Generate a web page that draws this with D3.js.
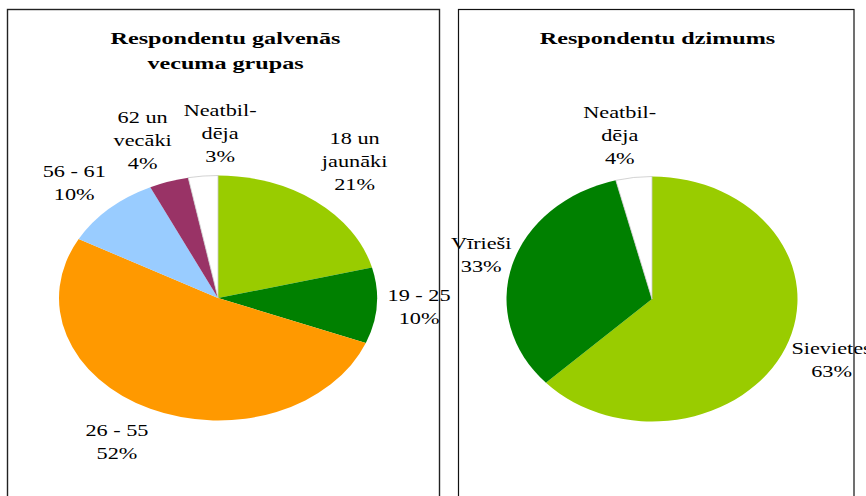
<!DOCTYPE html>
<html>
<head>
<meta charset="utf-8">
<script src="https://cdn.jsdelivr.net/npm/d3@7.9.0/dist/d3.min.js"></script>
<style>
  html, body { margin: 0; padding: 0; background: #fff; }
  svg { display: block; }
</style>
</head>
<body>
<svg id="chart" width="866" height="496"></svg>
<script>
// age groups (left pie)
const ageLabels = [['18 un', 'jaunāki'], ['19 - 25'], ['26 - 55'], ['56 - 61'], ['62 un', 'vecāki'], ['Neatbil-', 'dēja']];
const ageValues = [21, 10, 52, 10, 4, 3];
const ageColors = ['#99cc00', '#008000', '#ff9900', '#99ccff', '#993366', '#ffffff'];

// gender (right pie)
const genderLabels = [['Sievietes'], ['Vīrieši'], ['Neatbil-', 'dēja']];
const genderValues = [63, 33, 4];
const genderColors = ['#99cc00', '#008000', '#ffffff'];

// small label nudges, in px, after placing on the label ring
const ageNudge = [[7, -8], [-10, -2], [-11, -4], [1, 3], [-10, -3], [22, -3]];
const genderNudge = [[2, -4], [15, 1], [-8, -2]];

const svg = d3.select('#chart');
const LABEL_SX = 1.31;   // source picture is stretched sideways
const TITLE_SX = 1.38;
const LINE_H = 23;

function drawPanel(opts) {
    const g = svg.append('g');

    // title
    opts.title.forEach((line, i) => {
        g.append('text')
            .attr('transform', `translate(${opts.titleX},${44 + i * 24.5}) scale(${TITLE_SX},1)`)
            .attr('text-anchor', 'middle')
            .attr('font-family', '"Liberation Serif", "Times New Roman", serif')
            .attr('font-weight', 'bold')
            .attr('font-size', 17.5)
            .attr('fill', '#000')
            .text(line);
    });

    const total = d3.sum(opts.values);
    const pie = d3.pie().sort(null).value((d) => d);
    const slices = pie(opts.values);
    const R = 100;
    const arc = d3.arc().innerRadius(0).outerRadius(R);
    const ringR = R * 1.33;
    const ring = d3.arc().innerRadius(ringR).outerRadius(ringR);

    const pieG = g.append('g')
        .attr('transform', `translate(${opts.cx},${opts.cy}) scale(${opts.rx / R},${opts.ry / R})`);

    pieG.selectAll('path')
        .data(slices)
        .join('path')
        .attr('d', arc)
        .attr('fill', (d, i) => opts.colors[i])
        .attr('stroke', (d, i) => (opts.colors[i] === '#ffffff' ? '#c8c8c8' : 'none'))
        .attr('stroke-width', 0.8)
        .attr('vector-effect', 'non-scaling-stroke');

    slices.forEach((s, i) => {
        const [px, py] = ring.centroid(s);
        const x = opts.cx + px * opts.rx / R + opts.nudge[i][0];
        const y = opts.cy + py * opts.ry / R + opts.nudge[i][1];
        const lines = opts.labels[i].concat([Math.round(s.value / total * 100) + '%']);
        lines.forEach((line, j) => {
            const by = y + (j - (lines.length - 1) / 2) * LINE_H + 6;
            g.append('text')
                .attr('transform', `translate(${x},${by}) scale(${LABEL_SX},1)`)
                .attr('text-anchor', 'middle')
                .attr('font-family', '"Liberation Serif", "Times New Roman", serif')
                .attr('font-size', 17)
                .attr('fill', '#000')
                .text(line);
        });
    });
}

drawPanel({
    title: ['Respondentu galvenās', 'vecuma grupas'],
    titleX: 225.5,
    labels: ageLabels, values: ageValues, colors: ageColors, nudge: ageNudge,
    cx: 218, cy: 298, rx: 159, ry: 122.5
});

drawPanel({
    title: ['Respondentu dzimums'],
    titleX: 657.5,
    labels: genderLabels, values: genderValues, colors: genderColors, nudge: genderNudge,
    cx: 652, cy: 299, rx: 145.5, ry: 122.5
});

// panel frames on top (they cut through overflowing labels in the source)
svg.append('rect')
    .attr('x', 7.5).attr('y', 9.5).attr('width', 432).attr('height', 500)
    .attr('fill', 'none').attr('stroke', '#222').attr('stroke-width', 1.4);
svg.append('rect')
    .attr('x', 458.5).attr('y', 9.5).attr('width', 395.5).attr('height', 500)
    .attr('fill', 'none').attr('stroke', '#111').attr('stroke-width', 1.2);
</script>
</body>
</html>
